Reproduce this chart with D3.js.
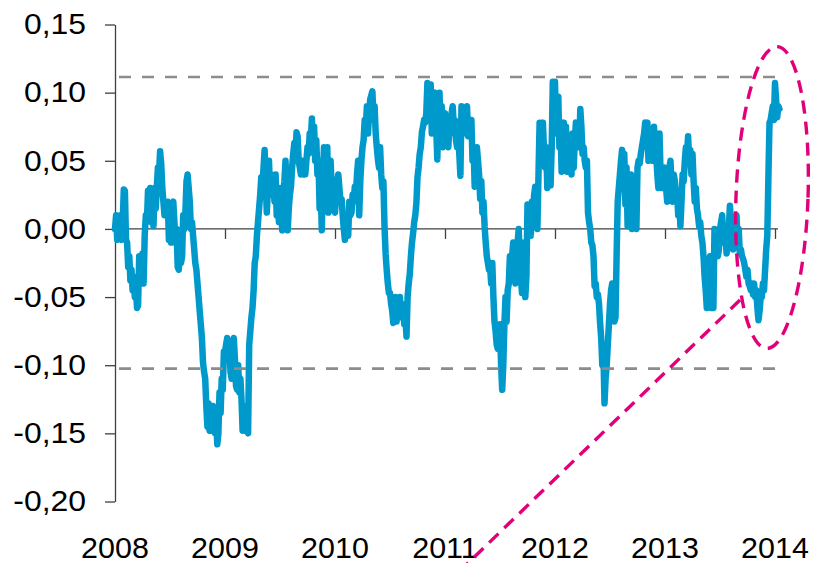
<!DOCTYPE html>
<html><head><meta charset="utf-8">
<script src="https://cdn.jsdelivr.net/npm/d3@7"></script>
<style>html,body{margin:0;padding:0;background:#fff;} svg{display:block;}</style>
</head><body>
<svg id="chart" width="813" height="563"></svg>
<script>
// ---- data ----
const yearLabels = ["2008","2009","2010","2011","2012","2013","2014"];
const yTickValues = [0.15, 0.10, 0.05, 0.00, -0.05, -0.10, -0.15, -0.20];
const upperBand = 0.1115;
const lowerBand = -0.1025;
// values sampled every 0.01 year, starting at the given year
const v2008 = [0.000,0.010,-0.008,0.008,-0.005,0.010,-0.008,0.005,0.029,0.028,
-0.008,-0.010,-0.028,-0.020,-0.038,-0.030,-0.045,-0.035,-0.050,-0.040,
-0.058,-0.056,-0.020,-0.030,-0.040,-0.018,-0.040,-0.005,0.010,0.005,
0.028,0.020,0.030,0.005,0.028,0.002,0.030,0.015,0.030,0.045,
0.040,0.057,0.048,0.030,0.020,0.010,0.020,0.012,0.020,-0.008,
0.015,-0.010,0.018,0.020,0.005,-0.010,0.000,-0.028,-0.030,-0.010,
-0.025,-0.020,0.010,0.000,0.012,0.035,0.040,0.030,0.020,0.000,
0.005,-0.005,-0.015,-0.025,-0.030,-0.040,-0.050,-0.060,-0.070,-0.080,
-0.098,-0.105,-0.110,-0.130,-0.145,-0.128,-0.148,-0.130,-0.148,-0.130,
-0.145,-0.150,-0.140,-0.158,-0.150,-0.120,-0.135,-0.110,-0.118,-0.090];
const v2009 = [-0.090,-0.085,-0.080,-0.095,-0.085,-0.105,-0.110,-0.085,-0.080,-0.095,
-0.115,-0.118,-0.100,-0.120,-0.110,-0.125,-0.148,-0.145,-0.148,-0.130,
-0.148,-0.150,-0.085,-0.075,-0.065,-0.058,-0.045,-0.025,-0.020,-0.005,
0.005,0.015,0.025,0.038,0.030,0.045,0.058,0.035,0.012,0.030,
0.050,0.025,0.040,0.030,0.035,0.020,0.040,0.010,0.030,0.005,
0.030,0.015,-0.001,0.025,0.035,0.050,0.030,-0.001,0.015,0.025,
0.031,0.045,0.055,0.063,0.050,0.071,0.068,0.050,0.045,0.040,
0.050,0.040,0.045,0.040,0.050,0.060,0.055,0.070,0.065,0.081,
0.060,0.075,0.050,0.065,0.040,0.050,0.015,0.030,-0.001,0.040,
0.060,0.058,0.040,0.060,0.012,0.040,0.050,0.030,0.020,0.015];
const v2010 = [0.012,0.025,0.035,0.040,0.030,0.020,0.022,0.010,0.000,-0.008,
0.010,0.000,-0.005,0.020,0.010,0.012,0.025,0.020,0.031,0.025,
0.040,0.050,0.010,0.035,0.050,0.060,0.065,0.080,0.075,0.090,
0.070,0.085,0.095,0.098,0.101,0.080,0.090,0.070,0.060,0.051,
0.045,0.060,0.040,0.030,0.035,0.002,-0.018,-0.030,-0.040,-0.047,
-0.047,-0.055,-0.060,-0.069,-0.060,-0.050,-0.068,-0.055,-0.065,-0.050,
-0.062,-0.055,-0.060,-0.070,-0.065,-0.079,-0.050,-0.040,-0.033,-0.020,
-0.010,-0.003,0.005,0.010,0.019,0.038,0.045,0.055,0.060,0.071,
0.075,0.080,0.078,0.085,0.107,0.100,0.080,0.106,0.070,0.085,
0.095,0.100,0.075,0.051,0.085,0.100,0.070,0.090,0.060,0.080];
const v2011 = [0.085,0.070,0.080,0.060,0.075,0.070,0.085,0.090,0.075,0.080,
0.065,0.060,0.070,0.055,0.039,0.090,0.080,0.070,0.075,0.085,
0.090,0.068,0.080,0.070,0.080,0.050,0.060,0.031,0.045,0.060,
0.050,0.040,0.022,0.035,0.012,0.020,0.002,-0.010,-0.020,-0.025,
-0.030,-0.028,-0.040,-0.025,-0.050,-0.068,-0.075,-0.085,-0.088,-0.080,
-0.070,-0.100,-0.118,-0.100,-0.070,-0.050,-0.068,-0.045,-0.040,-0.020,
-0.035,-0.020,-0.010,-0.030,-0.040,-0.035,-0.010,0.000,-0.020,-0.035,
-0.047,-0.030,-0.010,-0.050,-0.035,0.018,0.000,0.015,-0.005,0.020,
0.010,0.025,0.031,0.010,0.000,0.040,0.078,0.065,0.060,0.078,
0.058,0.045,0.060,0.030,0.040,0.048,0.032,0.060,0.108,0.085];
const v2012 = [0.108,0.070,0.085,0.097,0.060,0.075,0.042,0.060,0.078,0.060,
0.075,0.042,0.065,0.045,0.050,0.040,0.070,0.045,0.065,0.078,
0.060,0.075,0.060,0.088,0.075,0.055,0.060,0.050,0.045,0.050,
0.012,0.005,0.000,-0.010,-0.012,-0.020,-0.042,-0.040,-0.050,-0.048,
-0.055,-0.069,-0.080,-0.100,-0.090,-0.128,-0.110,-0.100,-0.085,-0.070,
-0.055,-0.045,-0.040,-0.055,-0.068,-0.065,-0.020,0.020,0.030,0.040,
0.050,0.058,0.045,0.055,0.018,0.045,0.002,0.020,0.002,0.040,
0.000,0.035,0.002,0.030,0.000,0.045,0.050,0.048,0.055,0.060,
0.065,0.070,0.078,0.065,0.078,0.050,0.060,0.055,0.065,0.050,
0.075,0.060,0.055,0.040,0.030,0.070,0.040,0.030,0.045,0.040];
const v2013 = [0.045,0.030,0.020,0.035,0.045,0.050,0.030,0.020,0.040,0.035,
0.025,0.028,0.010,0.020,0.002,0.020,0.040,0.035,0.050,0.060,
0.055,0.068,0.050,0.058,0.040,0.055,0.035,0.020,0.030,0.015,
0.010,0.002,0.005,-0.005,-0.010,-0.020,-0.035,-0.045,-0.058,-0.030,
-0.050,-0.020,-0.058,-0.030,-0.058,0.000,-0.010,-0.005,-0.020,-0.015,
0.000,0.005,0.010,-0.010,0.000,-0.005,-0.018,-0.010,0.000,0.017,
0.005,-0.005,-0.015,-0.005,0.005,0.010,-0.010,0.000,-0.018,-0.015,
-0.020,-0.022,-0.025,-0.030,-0.035,-0.030,-0.040,-0.042,-0.045,-0.040,
-0.048,-0.040,-0.050,-0.045,-0.058,-0.067,-0.060,-0.050,-0.050,-0.040,
-0.045,-0.030,-0.015,-0.005,0.038,0.078,0.080,0.085,0.090,0.080];
const v2014 = [0.107,0.095,0.082,0.090,0.088];

const seriesByYear = [[2008,v2008],[2009,v2009],[2010,v2010],[2011,v2011],[2012,v2012],[2013,v2013],[2014,v2014]];
const data = [];
seriesByYear.forEach(([yr, arr]) => arr.forEach((v, i) => data.push({t: yr + i / 100, v})));

// ---- chart ----
const svg = d3.select("#chart");
const x = d3.scaleLinear().domain([2008, 2014]).range([115, 775]);
const y = d3.scaleLinear().domain([-0.20, 0.15]).range([501.5, 24.5]);
const FONT = "'Liberation Sans', Arial, sans-serif";
const loc = d3.formatLocale({decimal: ",", thousands: ".", grouping: [3], currency: ["", ""], minus: "-"});
const fmt = loc.format(".2f");
function stretch(sel, k) {
  sel.each(function() {
    const w = this.getComputedTextLength();
    d3.select(this).attr("textLength", w * k).attr("lengthAdjust", "spacingAndGlyphs");
  });
}

// y axis
const yAxis = svg.append("g").attr("transform", "translate(115,0)")
  .call(d3.axisLeft(y).tickValues(yTickValues).tickSize(10).tickSizeOuter(0).tickPadding(19).tickFormat(fmt));
yAxis.selectAll("path.domain").attr("stroke", "#404040").attr("stroke-width", 1.3);
yAxis.selectAll(".tick line").attr("stroke", "#404040").attr("stroke-width", 1.3);
yAxis.selectAll(".tick text").attr("font-family", FONT).attr("font-size", 29).attr("fill", "#000").call(stretch, 1.1);

// zero line with x ticks
svg.append("line").attr("x1", 115).attr("x2", 778).attr("y1", y(0)).attr("y2", y(0))
  .attr("stroke", "#404040").attr("stroke-width", 1.3);
const xAxis = svg.append("g").attr("transform", `translate(0,${y(0)})`)
  .call(d3.axisBottom(x).tickValues(yearLabels.map(Number)).tickSize(10).tickSizeOuter(0).tickFormat(""));
xAxis.select("path.domain").remove();
xAxis.selectAll(".tick line").attr("stroke", "#404040").attr("stroke-width", 1.3);

// year labels
svg.append("g").selectAll("text").data(yearLabels).join("text")
  .attr("x", d => x(+d)).attr("y", 558).attr("text-anchor", "middle")
  .attr("font-family", FONT).attr("font-size", 29).attr("fill", "#000").text(d => d)
  .call(stretch, 1.05);

// series
const line = d3.line().x(d => x(d.t)).y(d => y(d.v));
svg.append("path").datum(data).attr("d", line).attr("fill", "none")
  .attr("stroke", "#0099CC").attr("stroke-width", 6.5)
  .attr("stroke-linejoin", "round").attr("stroke-linecap", "round");

// band lines
[upperBand, lowerBand].forEach(b => {
  svg.append("line").attr("x1", 119).attr("x2", 778).attr("y1", y(b)).attr("y2", y(b))
    .attr("stroke", "#8C8C8C").attr("stroke-width", 2.6).attr("stroke-dasharray", "12,11");
});

// highlight ellipse and pointer
const ecx = x(2014) - 3, ecy = y(0.023);
svg.append("ellipse").attr("cx", ecx).attr("cy", ecy).attr("rx", 36).attr("ry", 151)
  .attr("transform", `rotate(2,${ecx},${ecy})`)
  .attr("fill", "none").attr("stroke", "#E2007A").attr("stroke-width", 3.4).attr("stroke-dasharray", "13,8");
svg.append("line").attr("x1", 740).attr("y1", 300).attr("x2", 465).attr("y2", 566)
  .attr("stroke", "#E2007A").attr("stroke-width", 3.4).attr("stroke-dasharray", "13,8");
</script>
</body></html>
